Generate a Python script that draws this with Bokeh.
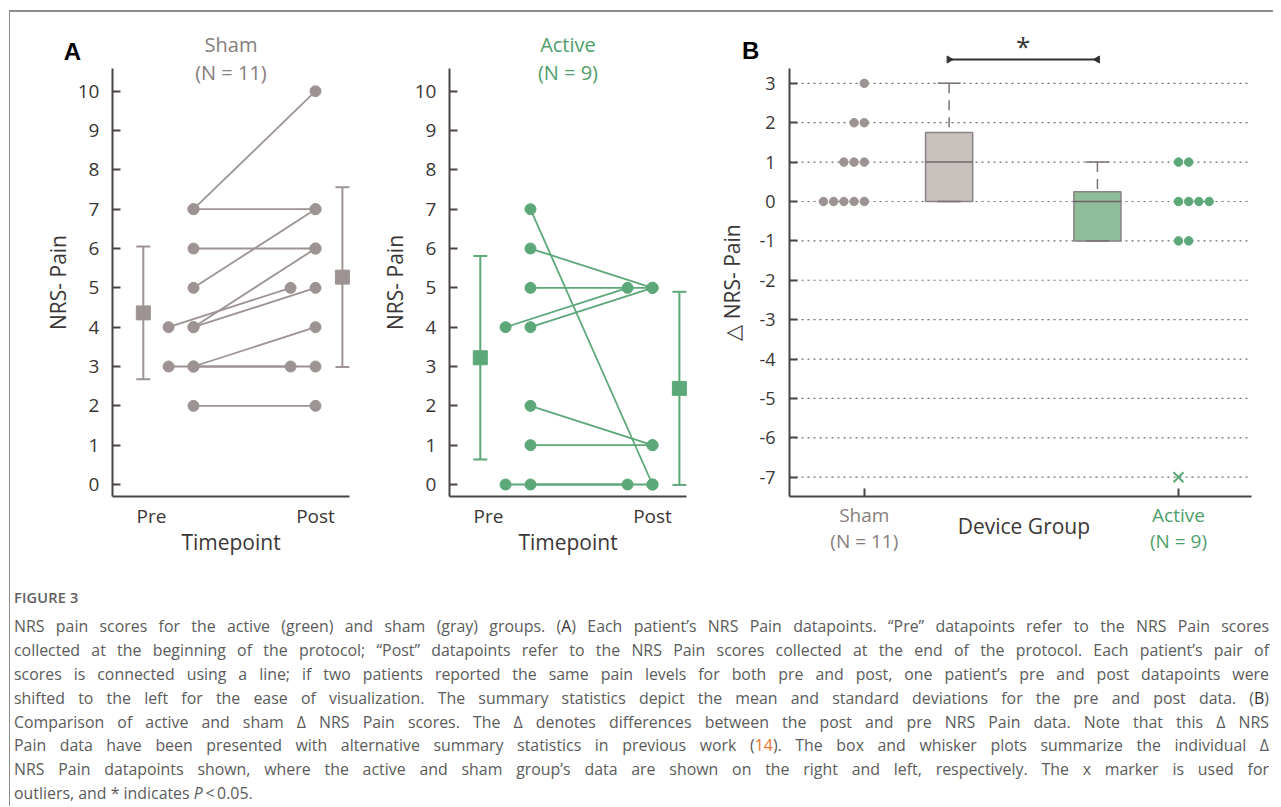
import numpy as np
from bokeh.plotting import figure
from bokeh.models import FixedTicker, Label, Range1d, Div
from bokeh.layouts import row, column
from bokeh.embed import file_html
from bokeh.resources import INLINE
from bokeh.core.properties import value

# ---------------- data ----------------
timepoints = ["Pre", "Post"]
sham_pre = [7, 7, 6, 5, 4, 4, 4, 3, 3, 3, 2]
sham_post = [10, 7, 6, 7, 6, 5, 5, 4, 3, 3, 2]
sham_shifted = [0, 0, 0, 0, 0, 0, 1, 0, 0, 1, 0]
active_pre = [7, 6, 5, 4, 4, 2, 1, 0, 0]
active_post = [0, 5, 5, 5, 5, 1, 1, 0, 0]
active_shifted = [0, 0, 0, 1, 0, 0, 0, 1, 0]

groups = ["Sham", "Active"]
group_n = [11, 9]
sham_delta = [3, 0, 0, 2, 2, 1, 1, 1, 0, 0, 0]
active_delta = [-7, -1, 0, 1, 1, -1, 0, 0, 0]
box_q1 = [0, -1]
box_median = [1, 0]
box_q3 = [1.75, 0.25]
whisker_low = [0, -1]
whisker_high = [3, 1]

caption_lines = [
    "NRS pain scores for the active (green) and sham (gray) groups. (<span style='color:#333'>A</span>) Each patient\u2019s NRS Pain datapoints. \u201cPre\u201d datapoints refer to the NRS Pain scores",
    "collected at the beginning of the protocol; \u201cPost\u201d datapoints refer to the NRS Pain scores collected at the end of the protocol. Each patient\u2019s pair of",
    "scores is connected using a line; if two patients reported the same pain levels for both pre and post, one patient\u2019s pre and post datapoints were",
    "shifted to the left for the ease of visualization. The summary statistics depict the mean and standard deviations for the pre and post data. (<span style='color:#333'>B</span>)",
    "Comparison of active and sham \u0394 NRS Pain scores. The \u0394 denotes differences between the post and pre NRS Pain data. Note that this \u0394 NRS",
    "Pain data have been presented with alternative summary statistics in previous work (<span style='color:#e8772e'>14</span>). The box and whisker plots summarize the individual \u0394",
    "NRS Pain datapoints shown, where the active and sham group\u2019s data are shown on the right and left, respectively. The x marker is used for",
    "outliers, and * indicates <i>P</i>\u2009&lt;\u20090.05.",
]

# ---------------- styles ----------------
GRAY = "#9d9393"
GREEN = "#5ca878"
GRAY_TXT = "#867d7d"
GREEN_TXT = "#4f9e6b"
AX = "#4a4444"
TXT = "#3a3636"
FONT = "Open Sans"

PRE_X, POST_X, SHIFT = 0.256, 1.0, 0.152
MEAN_X = [-0.05, 1.164]
CANVAS_H = 550

# axis extents of panel A (data units) and of panel B
A_X_AXIS = (-0.238, 1.207)
A_Y_AXIS = (-0.305, 10.577)
B_X_AXIS = (0.762, 2.232)
B_Y_AXIS = (-7.49, 3.375)


def style_axes(p):
    for ax in (p.xaxis[0], p.yaxis[0]):
        ax.axis_line_color = AX
        ax.axis_line_width = 2
        ax.major_tick_line_color = AX
        ax.major_tick_line_width = 2
        ax.minor_tick_line_color = None
        ax.major_label_text_font = FONT
        ax.major_label_text_color = TXT
        ax.axis_label_text_font = FONT
        ax.axis_label_text_font_style = "normal"
        ax.axis_label_text_color = TXT
    p.xgrid.visible = False
    p.ygrid.visible = False
    p.outline_line_color = None
    p.background_fill_color = "white"
    p.border_fill_color = "white"


def lab(p, x, y, text, color, size, font=FONT, style="normal"):
    p.add_layout(Label(x=x, y=y, text=text, text_align="center", text_baseline="middle",
                       text_font=font, text_font_style=style, text_font_size=size,
                       text_color=color))


def new_fig(width, xr, yr):
    return figure(frame_width=width, frame_height=CANVAS_H,
                  x_range=Range1d(*xr), y_range=Range1d(*yr),
                  min_border=0, min_border_left=0, min_border_right=0,
                  min_border_top=0, min_border_bottom=0,
                  output_backend="svg", toolbar_location=None)


def panel_a(pre, post, shifted, color, title_color, group, n, width, xr, letter=None):
    p = new_fig(width, xr, (-1.983, 12.001))
    style_axes(p)
    xa, ya = p.xaxis[0], p.yaxis[0]
    xa.fixed_location = A_Y_AXIS[0]
    xa.bounds = A_X_AXIS
    ya.fixed_location = A_X_AXIS[0]
    ya.bounds = A_Y_AXIS
    xa.ticker = FixedTicker(ticks=[0, 1])
    xa.major_label_overrides = {0: timepoints[0], 1: timepoints[1]}
    xa.major_tick_in = 0
    xa.major_tick_out = 0
    xa.major_label_standoff = 6
    xa.major_label_text_font_size = "19px"
    xa.axis_label = "Timepoint"
    xa.axis_label_text_font_size = "21px"
    xa.axis_label_standoff = -4
    ya.ticker = FixedTicker(ticks=list(range(0, 11)))
    ya.major_tick_in = 8
    ya.major_tick_out = 0
    ya.major_label_standoff = 13
    ya.major_label_text_font_size = "19px"
    ya.axis_label = "NRS- Pain"
    ya.axis_label_text_font_size = "21px"
    ya.axis_label_standoff = 3

    xs_pre = [PRE_X - SHIFT * s for s in shifted]
    xs_post = [POST_X - SHIFT * s for s in shifted]
    p.segment(xs_pre, pre, xs_post, post, line_color=color, line_width=1.8)
    p.scatter(xs_pre + xs_post, pre + post, size=11, fill_color=color, line_color=color)

    means = [float(np.mean(pre)), float(np.mean(post))]
    sds = [float(np.std(pre, ddof=1)), float(np.std(post, ddof=1))]
    lo = [m - s for m, s in zip(means, sds)]
    hi = [m + s for m, s in zip(means, sds)]
    p.segment(MEAN_X, lo, MEAN_X, hi, line_color=color, line_width=2)
    p.scatter(MEAN_X + MEAN_X, lo + hi, marker="dash", size=14, line_color=color, line_width=2)
    p.scatter(MEAN_X, means, marker="square", size=14, fill_color=color, line_color=color)

    xc = (A_X_AXIS[0] + A_X_AXIS[1]) / 2
    lab(p, xc, 11.187, group, title_color, "20px")
    lab(p, xc, 10.475, f"(N = {n})", title_color, "20px")
    if letter:
        lab(p, -0.482, 10.997, letter, "black", "24px", "Liberation Sans", "bold")
    return p


f1 = panel_a(sham_pre, sham_post, sham_shifted, GRAY, GRAY_TXT, groups[0], group_n[0],
             370, (-0.8598, 1.3963), "A")
f2 = panel_a(active_pre, active_post, active_shifted, GREEN, GREEN_TXT, groups[1], group_n[1],
             330, (-0.6585, 1.3537))

# ---------------- panel B ----------------
GX = [1, 2]
BOX_X = [1.27, 1.742]
BOX_W = 0.15
CAP_W = 0.073
DOT_STEP = 0.0325
B_TICKS = list(range(-7, 4))

p = new_fig(563, (0.5105, 2.3024), (-9.165, 4.798))
style_axes(p)
xa, ya = p.xaxis[0], p.yaxis[0]
xa.fixed_location = B_Y_AXIS[0]
xa.bounds = B_X_AXIS
ya.fixed_location = B_X_AXIS[0]
ya.bounds = B_Y_AXIS
ya.ticker = FixedTicker(ticks=B_TICKS)
ya.major_label_overrides = {t: str(t) for t in B_TICKS}
ya.major_tick_in = 8
ya.major_tick_out = 0
ya.major_label_standoff = 14
ya.major_label_text_font_size = "18px"
ya.axis_label = "\u25b3 NRS- Pain"
ya.axis_label_text_font_size = "21px"
ya.axis_label_standoff = 10
xa.ticker = FixedTicker(ticks=GX)
xa.major_label_overrides = {1: "", 2: ""}
xa.major_tick_in = 8
xa.major_tick_out = 0

# dotted horizontal reference lines at every tick
p.segment([B_X_AXIS[0]] * len(B_TICKS), B_TICKS, [B_X_AXIS[1]] * len(B_TICKS), B_TICKS,
          line_color="#6e6e6e", line_dash="2 4", line_width=1.2, level="underlay")

# boxes
p.vbar(x=BOX_X, width=BOX_W, bottom=box_q1, top=box_q3,
       fill_color=["#c9c1be", "#8fbd9a"], line_color="#8a8282", line_width=1.5)
bx0 = [x - BOX_W / 2 for x in BOX_X]
bx1 = [x + BOX_W / 2 for x in BOX_X]
p.segment(bx0, box_median, bx1, box_median, line_color="#6e6666", line_width=1.5)
p.segment(BOX_X, whisker_high, BOX_X, box_q3, line_color="#7a7272", line_width=1.5, line_dash="10 7")
p.segment(BOX_X, whisker_low, BOX_X, box_q1, line_color="#7a7272", line_width=1.5, line_dash="10 7")
cx0 = [x - CAP_W / 2 for x in BOX_X]
cx1 = [x + CAP_W / 2 for x in BOX_X]
p.segment(cx0 + cx0, whisker_high + whisker_low, cx1 + cx1, whisker_high + whisker_low,
          line_color="#7a7272", line_width=1.5)


def stacked(vals, x0, step):
    xs, counts = [], {}
    for v in vals:
        k = counts.get(v, 0)
        counts[v] = k + 1
        xs.append(x0 + step * k)
    return xs


for gi, (vals, col, direction) in enumerate([(sham_delta, GRAY, -1), (active_delta, GREEN, 1)]):
    inl = [v for v in vals if whisker_low[gi] <= v <= whisker_high[gi]]
    out = [v for v in vals if not (whisker_low[gi] <= v <= whisker_high[gi])]
    p.scatter(stacked(inl, GX[gi], direction * DOT_STEP), inl, size=8.5, fill_color=col, line_color=col)
    if out:
        p.scatter([GX[gi]] * len(out), out, marker="x", size=14, line_color=col, line_width=2)

# significance bracket
BR_Y = 3.605
p.segment([BOX_X[0]], [BR_Y], [BOX_X[1]], [BR_Y], line_color="#333333", line_width=2)
p.scatter([BOX_X[0]], [BR_Y], marker="triangle", angle=-np.pi / 2, size=7, color="#333333")
p.scatter([BOX_X[1]], [BR_Y], marker="triangle", angle=np.pi / 2, size=7, color="#333333")
p.text(x=[(BOX_X[0] + BOX_X[1]) / 2], y=[3.935], text=["*"], text_align="center", text_baseline="middle",
       text_font=value(FONT), text_font_size="26px", text_color="#333333")

lab(p, 0.638, 3.833, "B", "black", "24px", "Liberation Sans", "bold")
for gi, col in enumerate([GRAY_TXT, GREEN_TXT]):
    lab(p, GX[gi], -7.97, groups[gi], col, "19px")
    lab(p, GX[gi], -8.63, f"(N = {group_n[gi]})", col, "19px")
lab(p, 1.508, -8.25, "Device Group", TXT, "21px")
f3 = p

# ---------------- caption & frame ----------------
body = "".join(
    f"<div style='text-align:justify;text-align-last:justify;white-space:normal'>{l}</div>"
    for l in caption_lines[:-1]) + f"<div>{caption_lines[-1]}</div>"
html = ("<div style=\"font-family:'Open Sans';color:#5b5b5b;font-size:15.9px;line-height:23.9px;"
        "padding-top:24px;padding-left:4px;width:1259px;\">"
        "<div style='font-size:14.5px;font-weight:600;color:#606060;margin-bottom:5px;letter-spacing:0.2px'>FIGURE 3</div>"
        f"{body}</div>")
caption = Div(text=html, width=1263, height=244, margin=(0, 0, 0, 0))

top_bar = Div(text="", width=1264, height=2, margin=(0, 0, 0, 0), styles={"background-color": "#8c8c8c"})
left_bar = Div(text="", width=1, height=794, margin=(0, 0, 0, 0), styles={"background-color": "#8c8c8c"})

layout = column(top_bar,
                row(left_bar, column(row(f1, f2, f3, spacing=0), caption, spacing=0), spacing=0),
                spacing=0, margin=(10, 0, 0, 9))

open("out.html", "w").write(file_html(layout, INLINE))
